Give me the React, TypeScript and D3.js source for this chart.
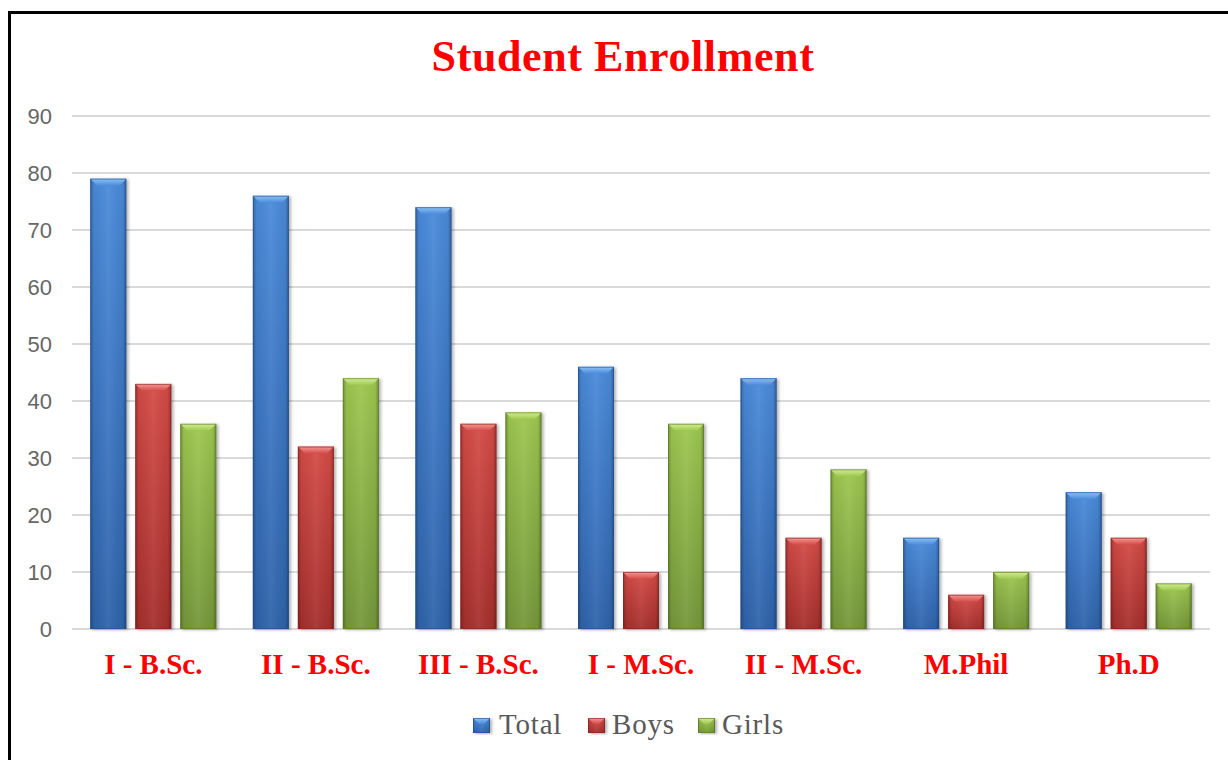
import React from "react";
import * as d3 from "d3";

const categories = ["I - B.Sc.", "II - B.Sc.", "III - B.Sc.", "I - M.Sc.", "II - M.Sc.", "M.Phil", "Ph.D"];
const seriesNames = ["Total", "Boys", "Girls"];
const totalValues = [79, 76, 74, 46, 44, 16, 24];
const boysValues = [43, 32, 36, 10, 16, 6, 16];
const girlsValues = [36, 44, 38, 36, 28, 10, 8];
const yTicks = [0, 10, 20, 30, 40, 50, 60, 70, 80, 90];

const seriesValues = [totalValues, boysValues, girlsValues];

const palette = [
  { id: "blue", top: "#4A8ADA", bottom: "#2E63AA", edge: "#244F8A", bevel: "#8CC4F6" },
  { id: "red", top: "#D44B47", bottom: "#A52F2C", edge: "#852421", bevel: "#F59894" },
  { id: "green", top: "#9DC850", bottom: "#75973A", edge: "#5B7729", bevel: "#D4EE92" },
];

const W = 1228;
const H = 760;
const plotLeft = 72;
const plotRight = 1210;
const plotTop = 116;
const plotBottom = 629;

function Bar({ x, y, w, h, c, bev }: { x: number; y: number; w: number; h: number; c: typeof palette[0]; bev: number }) {
  const b = Math.min(bev, h / 2, w / 2);
  return (
    <g filter="url(#shadow)">
      <rect x={x} y={y} width={w} height={h} fill={`url(#v-${c.id})`} />
      <rect x={x} y={y} width={w} height={h} fill="url(#sides)" />
      <polygon
        points={`${x},${y} ${x + w},${y} ${x + w - b},${y + b} ${x + b},${y + b}`}
        fill={`url(#bev-${c.id})`}
      />
      <rect x={x + 0.5} y={y + 0.5} width={w - 1} height={h - 1} fill="none" stroke={c.edge} strokeOpacity={0.6} strokeWidth={1} />
    </g>
  );
}

export default function App() {
  const x0 = d3.scaleBand<string>().domain(categories).range([plotLeft, plotRight]).padding(0);
  const groupW = 126;
  const x1 = d3.scaleBand<string>().domain(seriesNames).range([0, groupW]).paddingInner(0.2);
  const y = d3.scaleLinear().domain([0, 90]).range([plotBottom, plotTop]);
  const offset = (x0.bandwidth() - groupW) / 2;

  const legendItems = [
    { name: "Total", mx: 473, tx: 499 },
    { name: "Boys", mx: 588, tx: 612 },
    { name: "Girls", mx: 698, tx: 722 },
  ];

  return (
    <svg width={W} height={H} style={{ position: "absolute", left: 0, top: 0 }}>
      <defs>
        <filter id="shadow" x="-20%" y="-5%" width="150%" height="115%">
          <feDropShadow dx="2" dy="1" stdDeviation="1.5" floodColor="#000" floodOpacity="0.3" />
        </filter>
        <linearGradient id="sides" x1="0" y1="0" x2="1" y2="0">
          <stop offset="0" stopColor="#000" stopOpacity="0.28" />
          <stop offset="0.1" stopColor="#000" stopOpacity="0.04" />
          <stop offset="0.5" stopColor="#fff" stopOpacity="0.06" />
          <stop offset="0.9" stopColor="#000" stopOpacity="0.04" />
          <stop offset="1" stopColor="#000" stopOpacity="0.3" />
        </linearGradient>
        {palette.map((c) => (
          <React.Fragment key={c.id}>
            <linearGradient id={`v-${c.id}`} x1="0" y1="0" x2="0" y2="1">
              <stop offset="0" stopColor={c.top} />
              <stop offset="1" stopColor={c.bottom} />
            </linearGradient>
            <linearGradient id={`bev-${c.id}`} x1="0" y1="0" x2="0" y2="1">
              <stop offset="0" stopColor={c.bevel} />
              <stop offset="1" stopColor={c.top} />
            </linearGradient>
          </React.Fragment>
        ))}
      </defs>
      <rect x={0} y={0} width={W} height={H} fill="#fff" />
      <path d={`M9.5,${H + 5} V12.5 H${W + 5}`} fill="none" stroke="#000" strokeWidth={3} />

      <text x={623} y={71} textAnchor="middle" fontFamily="'Liberation Serif', serif" fontWeight="bold" fontSize={44} letterSpacing={0.6} fill="#FF0000">
        Student Enrollment
      </text>

      {yTicks.map((t) => (
        <g key={t}>
          <line x1={plotLeft} x2={plotRight} y1={y(t)} y2={y(t)} stroke="#D9D9D9" strokeWidth={2} />
          <text x={52} y={y(t) + 8} textAnchor="end" fontFamily="'Liberation Sans', Arial, sans-serif" fontSize={22} fill="#666666">
            {t}
          </text>
        </g>
      ))}

      {categories.map((cat, i) => (
        <g key={cat}>
          {seriesNames.map((s, j) => {
            const v = seriesValues[j][i];
            const bx = (x0(cat) as number) + offset + (x1(s) as number);
            return <Bar key={s} x={bx} y={y(v)} w={x1.bandwidth()} h={y(0) - y(v)} c={palette[j]} bev={7} />;
          })}
          <text
            x={(x0(cat) as number) + x0.bandwidth() / 2}
            y={674}
            textAnchor="middle"
            fontFamily="'Liberation Serif', serif"
            fontWeight="bold"
            fontSize={29}
            fill="#FF0000"
          >
            {cat}
          </text>
        </g>
      ))}

      {legendItems.map((it, j) => (
        <g key={it.name}>
          <Bar x={it.mx} y={718} w={17} h={15} c={palette[j]} bev={6} />
          <text x={it.tx} y={734} fontFamily="'Liberation Serif', serif" fontSize={29} letterSpacing={0.8} fill="#595959">
            {it.name}
          </text>
        </g>
      ))}
    </svg>
  );
}
